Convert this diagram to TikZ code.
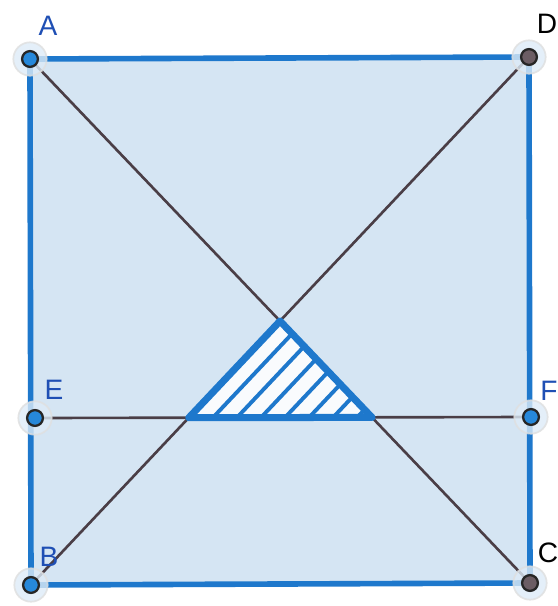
\documentclass[tikz,border=0pt]{standalone}
\usepackage{fontspec}
\setmainfont{Liberation Sans}
\usetikzlibrary{calc}

\definecolor{sqblue}{HTML}{1E78CC}
\definecolor{sqfill}{HTML}{D5E5F3}
\definecolor{diagcol}{HTML}{4A3E46}
\definecolor{ptblue}{HTML}{2688DA}
\definecolor{ptgray}{HTML}{6B5D64}
\definecolor{labblue}{HTML}{1F4FB4}

\begin{document}
\begin{tikzpicture}[x=0.02cm, y=-0.02cm,
        side/.style={sqblue, line width=3.2pt, line join=round},
        diagline/.style={diagcol, line width=1.5pt},
        hatch/.style={sqblue, line width=2.2pt},
        halo/.style={circle, fill=sqblue!15, draw=gray!25, line width=1pt,
                opacity=0.8, inner sep=0pt, minimum size=19pt},
        pt/.style={circle, draw=black!85, line width=1.3pt, inner sep=0pt,
                minimum size=9pt, fill=ptblue},
        lab/.style={font=\fontsize{16}{16}\selectfont, text=labblue, inner sep=0pt}
    ]
    \useasboundingbox (0,0) rectangle (558,606);

    \coordinate (A) at (30,59);
    \coordinate (D) at (529,57);
    \coordinate (B) at (31,585);
    \coordinate (C) at (530,583);
    \coordinate (E) at (35,418);
    \coordinate (F) at (531,417);

    % square
    \fill[sqfill] (A) -- (D) -- (C) -- (B) -- cycle;

    % diagonals and middle line
    \draw[diagline] (A) -- (C);
    \draw[diagline] (B) -- (D);
    \draw[diagline] (E) -- (F);

    % hatched triangle
    \coordinate (O) at (intersection of A--C and B--D);
    \coordinate (P) at (intersection of E--F and B--D);
    \coordinate (Q) at (intersection of E--F and A--C);
    \fill[white!85!sqfill] (O) -- (P) -- (Q) -- cycle;
    \begin{scope}
        \clip (O) -- (P) -- (Q) -- cycle;
        \foreach \k in {1,...,8} {
            \draw[hatch] ($(P)+(\k*24,0)$) -- ($(O)+(\k*24,0)$);
        }
    \end{scope}
    \draw[sqblue, line width=4pt, line join=round] (O) -- (P) -- (Q) -- cycle;

    \draw[side] (A) -- (D) -- (C) -- (B) -- cycle;

    % points
    \foreach \p in {A,D,E,F,B,C} {
        \node[halo] (h\p) at (\p) {};
    }
    \node[pt] (pA) at (A) {};
    \node[pt, fill=ptgray] (pD) at (D) {};
    \node[pt] (pE) at (E) {};
    \node[pt] (pF) at (F) {};
    \node[pt] (pB) at (B) {};
    \node[pt, fill=ptgray] (pC) at (C) {};

    % labels
    \node[lab] (lA) at (48,26) {A};
    \node[lab, text=black] (lD) at (547,24) {D};
    \node[lab] (lE) at (54,390) {E};
    \node[lab] (lF) at (549,391) {F};
    \node[lab] (lB) at (49,557) {B};
    \node[lab, text=black] (lC) at (548,553) {C};
\end{tikzpicture}
\end{document}
